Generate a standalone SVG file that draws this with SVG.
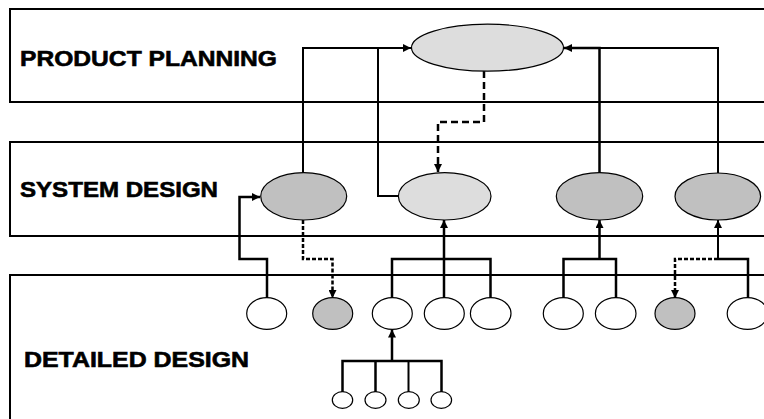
<svg xmlns="http://www.w3.org/2000/svg" width="764" height="419" viewBox="0 0 764 419">
<style>
.lane{fill:#fff;stroke:#000;stroke-width:2}
.lbl{font-family:"Liberation Sans",Arial,sans-serif;font-weight:bold;font-size:22px;fill:#000;stroke:#000;stroke-width:0.6}
.light{fill:#dddddd;stroke:#000;stroke-width:1.2}
.dark{fill:#c0c0c0;stroke:#000;stroke-width:1.2}
.white{fill:#fff;stroke:#000;stroke-width:1.2}
.c{fill:none;stroke:#000;stroke-width:2.5}
.t{fill:none;stroke:#000;stroke-width:2}
.d{fill:none;stroke:#000;stroke-width:2.5;stroke-dasharray:4 2}
.dl{fill:none;stroke:#000;stroke-width:2.5;stroke-dasharray:7 4}
</style>
<defs>
<marker id="ah" viewBox="0 0 10 10" refX="10" refY="5" markerWidth="9" markerHeight="8" markerUnits="userSpaceOnUse" orient="auto">
<path d="M0,0 L10,5 L0,10 z" fill="#000"/>
</marker>
</defs>
<rect width="764" height="419" fill="#fff"/>
<g id="lanes">
<g id="lane-product"><rect class="lane" x="10" y="9" width="770" height="93"/><text class="lbl" x="20" y="66" textLength="257" lengthAdjust="spacingAndGlyphs">PRODUCT PLANNING</text></g>
<g id="lane-system"><rect class="lane" x="10" y="142" width="770" height="94"/><text class="lbl" x="20" y="197" textLength="198" lengthAdjust="spacingAndGlyphs">SYSTEM DESIGN</text></g>
<g id="lane-detailed"><rect class="lane" x="10" y="275" width="770" height="160"/><text class="lbl" x="24" y="367" textLength="225" lengthAdjust="spacingAndGlyphs">DETAILED DESIGN</text></g>
</g>
<g id="connectors">
<path class="t" d="M303,173 V48 H411" marker-end="url(#ah)"/>
<path class="t" d="M378,48 V196 H398"/>
<path class="c" d="M599.5,173 V48 H564" marker-end="url(#ah)"/>
<path class="t" d="M718,173 V48 H600"/>
<path class="dl" d="M484,71 V122 H438 V172" marker-end="url(#ah)"/>
<path class="c" d="M267,298 V259 H239.5 V197 H260" marker-end="url(#ah)"/>
<path class="d" d="M303,220 V259 H332.5 V298" marker-end="url(#ah)"/>
<path class="c" d="M392,298 V259 H490.5 V298"/>
<path class="c" d="M444,298 V220" marker-end="url(#ah)"/>
<path class="c" d="M563.5,298 V259 H616 V298"/>
<path class="c" d="M599.5,259 V220" marker-end="url(#ah)"/>
<path class="c" d="M718,259 H748 V298"/>
<path class="t" d="M718,259 V220" marker-end="url(#ah)"/>
<path class="d" d="M718,259 H675 V298" marker-end="url(#ah)"/>
<path class="c" d="M342.5,392 V361 H441.5 V392"/>
<path class="c" d="M375.5,361 V392"/>
<path class="t" d="M408.5,361 V392"/>
<path class="c" d="M392,361 V329.5" marker-end="url(#ah)"/>
</g>
<g id="n-plan"><ellipse class="light" cx="487.5" cy="47.7" rx="76" ry="23.5"/></g>
<g id="n-sys1"><ellipse class="dark" cx="303.7" cy="196.3" rx="43" ry="23.7"/></g>
<g id="n-sys2"><ellipse class="light" cx="444.7" cy="196.3" rx="46.3" ry="23.7"/></g>
<g id="n-sys3"><ellipse class="dark" cx="599.5" cy="196.3" rx="43.2" ry="23.7"/></g>
<g id="n-sys4"><ellipse class="dark" cx="717.8" cy="196.5" rx="42.8" ry="23.5"/></g>
<g id="n-d1"><ellipse class="white" cx="266.7" cy="313.5" rx="20" ry="15.8"/></g>
<g id="n-d2"><ellipse class="dark" cx="332.7" cy="313.5" rx="20" ry="15.8"/></g>
<g id="n-d3"><ellipse class="white" cx="392.3" cy="313.5" rx="20" ry="15.8"/></g>
<g id="n-d4"><ellipse class="white" cx="444.3" cy="313.5" rx="20" ry="15.8"/></g>
<g id="n-d5"><ellipse class="white" cx="490.7" cy="313.5" rx="20.3" ry="15.8"/></g>
<g id="n-d6"><ellipse class="white" cx="563.3" cy="313.5" rx="20" ry="15.8"/></g>
<g id="n-d7"><ellipse class="white" cx="615.7" cy="313.5" rx="20.3" ry="15.8"/></g>
<g id="n-d8"><ellipse class="dark" cx="675" cy="313.5" rx="20" ry="15.8"/></g>
<g id="n-d9"><ellipse class="white" cx="747.5" cy="313.5" rx="20.3" ry="15.8"/></g>
<g id="n-s1"><ellipse class="white" cx="342.5" cy="400" rx="10.2" ry="8.3"/></g>
<g id="n-s2"><ellipse class="white" cx="375.5" cy="400" rx="10.5" ry="8.3"/></g>
<g id="n-s3"><ellipse class="white" cx="408.8" cy="400" rx="10.5" ry="8.3"/></g>
<g id="n-s4"><ellipse class="white" cx="441.3" cy="400" rx="10.3" ry="8.3"/></g>
</svg>
